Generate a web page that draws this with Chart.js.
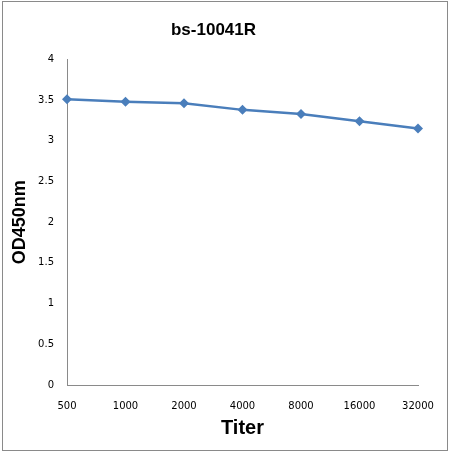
<!DOCTYPE html>
<html>
<head>
<meta charset="utf-8">
<script src="https://cdn.jsdelivr.net/npm/chart.js@4"></script>
<style>
  html, body { margin: 0; padding: 0; background: #fff; }
  #frame { position: absolute; left: 2px; top: 1px; width: 444px; height: 448px; border: 1px solid #8a8a8a; }
  #wrap { position: absolute; left: 0; top: 0; width: 450px; height: 452px; }
</style>
</head>
<body>
<div id="frame"></div>
<div id="wrap"><canvas id="chart"></canvas></div>
<script>
// titer dilutions and measured OD450
const titers = ["500", "1000", "2000", "4000", "8000", "16000", "32000"];
const od450 = [3.51, 3.48, 3.46, 3.38, 3.33, 3.24, 3.15];
const chartTitle = "bs-10041R";

const blue = '#4a7ebb';
const axisGrey = '#8a8a8a';

const ctx = document.getElementById('chart').getContext('2d');

new Chart(ctx, {
    type: 'line',
    data: {
        labels: titers,
        datasets: [{
            label: 'OD450',
            data: od450,
            borderColor: blue,
            backgroundColor: blue,
            borderWidth: 2.5,
            pointStyle: 'rectRot',
            pointRadius: 5,
            pointBorderWidth: 0,
            tension: 0,
            fill: false
        }]
    },
    options: {
        responsive: true,
        maintainAspectRatio: false,
        animation: false,
        layout: { padding: { left: 9, right: 32, top: 0, bottom: 0 } },
        scales: {
            x: {
                offset: false,
                grid: { display: false, drawTicks: false },
                border: { display: true, color: axisGrey, width: 1 },
                ticks: { font: { family: "'DejaVu Sans', sans-serif", size: 10 }, color: '#000', padding: 15, maxRotation: 0, autoSkip: false },
                title: { display: true, text: 'Titer', font: { family: "'Liberation Sans', Arial, sans-serif", size: 20, weight: 'bold' }, color: '#000', padding: { top: 0, bottom: 12 } },
                afterFit: (scale) => { scale.height = 67; }
            },
            y: {
                min: 0,
                max: 4,
                grid: { display: false, drawTicks: false },
                border: { display: true, color: axisGrey, width: 1 },
                ticks: {
                    stepSize: 0.5,
                    font: { family: "'DejaVu Sans', sans-serif", size: 10 },
                    color: '#000',
                    padding: 13,
                    callback: (v) => String(v)
                },
                title: { display: true, text: 'OD450nm', font: { family: "'Liberation Sans', Arial, sans-serif", size: 18, weight: 'bold' }, color: '#000', padding: 0 },
                afterFit: (scale) => { scale.width = 58; }
            }
        },
        plugins: {
            legend: { display: false },
            tooltip: { enabled: false },
            title: {
                display: true,
                text: chartTitle,
                color: '#000',
                font: { family: "'Liberation Sans', Arial, sans-serif", size: 17, weight: 'bold' },
                padding: { top: 20, bottom: 19 }
            }
        }
    }
});
</script>
</body>
</html>
